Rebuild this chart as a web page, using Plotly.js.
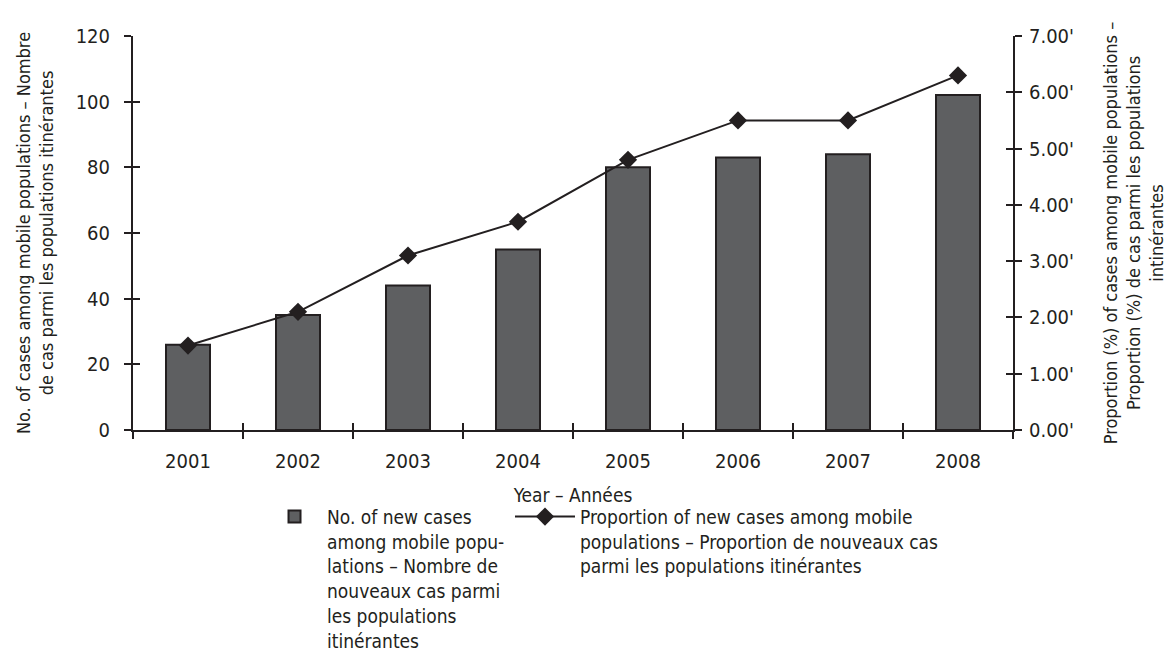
<!DOCTYPE html>
<html>
<head>
<meta charset="utf-8">
<script src="https://cdn.plot.ly/plotly-3.0.1.min.js"></script>
<style>
  html, body { margin: 0; padding: 0; background: #ffffff; }
  #chart { width: 1173px; height: 654px; }
</style>
</head>
<body>
<div id="chart"></div>
<script>
// ---- Data ----
var years = ['2001', '2002', '2003', '2004', '2005', '2006', '2007', '2008'];
var newCases = [26, 35, 44, 55, 80, 83, 84, 102];
var proportion = [1.5, 2.1, 3.1, 3.7, 4.8, 5.5, 5.5, 6.3];

var leftTicks = [0, 20, 40, 60, 80, 100, 120];
var rightTicks = [0, 1, 2, 3, 4, 5, 6, 7];
var rightTickText = ["0.00'", "1.00'", "2.00'", "3.00'", "4.00'", "5.00'", "6.00'", "7.00'"];

var barName = 'No. of new cases<br>among mobile popu-<br>lations – Nombre de<br>nouveaux cas parmi<br>les populations<br>itinérantes';
var lineName = 'Proportion of new cases among mobile<br>populations – Proportion de nouveaux cas<br>parmi les populations itinérantes';
var xTitle = 'Year – Années';
var yTitle = 'No. of cases among mobile populations – Nombre<br>de cas parmi les populations itinérantes';
var y2Title = 'Proportion (%) of cases among mobile populations –<br>Proportion (%) de cas parmi les populations<br>intinérantes';

// ---- Styling ----
var FONT = '"Liberation Sans Narrow", "DejaVu Sans Condensed", Roboto, sans-serif';
var INK = '#231f20';
var BAR = '#5e5f61';

var boundaries = years.slice(1).map(function (_, i) { return i + 0.5; });
var xr = [-0.5, years.length - 0.5];
var yr = [0, leftTicks[leftTicks.length - 1]];
var y2r = [0, rightTicks[rightTicks.length - 1]];

var traces = [
  {
    type: 'bar', x: years, y: newCases, name: barName, legend: 'legend',
    marker: { color: BAR, line: { color: INK, width: 2 } },
    xaxis: 'x', yaxis: 'y', hoverinfo: 'x+y'
  },
  {
    type: 'scatter', mode: 'lines+markers', x: years, y: proportion, name: lineName, legend: 'legend2',
    line: { color: INK, width: 2 },
    marker: { symbol: 'diamond', size: 14, color: INK },
    xaxis: 'x', yaxis: 'y2'
  },
  // helper empty traces to draw the inner half of the crossing ticks
  { type: 'scatter', x: [], y: [], xaxis: 'x2', yaxis: 'y3', showlegend: false, hoverinfo: 'skip' },
  { type: 'scatter', x: [], y: [], xaxis: 'x2', yaxis: 'y4', showlegend: false, hoverinfo: 'skip' }
];

var legendFont = { family: FONT, size: 19, color: INK };

var layout = {
  width: 1173, height: 654,
  margin: { l: 133, r: 160, t: 36, b: 224, autoexpand: false },
  paper_bgcolor: '#ffffff', plot_bgcolor: '#ffffff',
  font: { family: FONT, size: 18, color: INK },
  bargap: 0.6,
  showlegend: true,
  legend: {
    orientation: 'h', x: 0.1466, xanchor: 'left', y: -0.172, yanchor: 'top',
    valign: 'top', itemwidth: 55, font: legendFont, bgcolor: 'rgba(0,0,0,0)'
  },
  legend2: {
    orientation: 'h', x: 0.4284, xanchor: 'left', y: -0.172, yanchor: 'top',
    valign: 'top', itemwidth: 60, font: legendFont, bgcolor: 'rgba(0,0,0,0)'
  },
  xaxis: {
    type: 'category', range: xr, tickson: 'boundaries',
    ticks: 'outside', ticklen: 7, tickwidth: 2, tickcolor: INK,
    showline: true, linecolor: INK, linewidth: 2,
    showgrid: false, zeroline: false, automargin: false,
    ticklabelstandoff: 12,
    tickfont: { family: FONT, size: 20, color: INK },
    title: { text: xTitle, standoff: 17, font: { family: FONT, size: 19, color: INK } }
  },
  yaxis: {
    range: yr, tickmode: 'array', tickvals: leftTicks,
    ticks: 'outside', ticklen: 7, tickwidth: 2, tickcolor: INK,
    showline: true, linecolor: INK, linewidth: 2,
    showgrid: false, zeroline: false, automargin: false,
    ticklabelstandoff: 10,
    tickfont: { family: FONT, size: 20, color: INK },
    title: { text: yTitle, standoff: 17, font: { family: FONT, size: 18, color: INK } }
  },
  yaxis2: {
    overlaying: 'y', side: 'right', anchor: 'x',
    range: y2r, tickmode: 'array', tickvals: rightTicks, ticktext: rightTickText,
    ticks: 'outside', ticklen: 7, tickwidth: 2, tickcolor: INK,
    showline: true, linecolor: INK, linewidth: 2,
    showgrid: false, zeroline: false, automargin: false,
    ticklabelstandoff: 3,
    tickfont: { family: FONT, size: 20, color: INK },
    title: { text: y2Title, standoff: 31, font: { family: FONT, size: 18, color: INK } }
  },
  xaxis2: {
    overlaying: 'x', anchor: 'y', side: 'bottom', range: xr,
    tickmode: 'array', tickvals: boundaries,
    ticks: 'inside', ticklen: 7, tickwidth: 2, tickcolor: INK,
    showticklabels: false, showline: false, showgrid: false, zeroline: false, automargin: false
  },
  yaxis3: {
    overlaying: 'y', anchor: 'x', side: 'left', range: yr,
    tickmode: 'array', tickvals: leftTicks,
    ticks: 'inside', ticklen: 7, tickwidth: 2, tickcolor: INK,
    showticklabels: false, showline: false, showgrid: false, zeroline: false, automargin: false
  },
  yaxis4: {
    overlaying: 'y', anchor: 'x', side: 'right', range: y2r,
    tickmode: 'array', tickvals: rightTicks,
    ticks: 'inside', ticklen: 7, tickwidth: 2, tickcolor: INK,
    showticklabels: false, showline: false, showgrid: false, zeroline: false, automargin: false
  }
};

Plotly.newPlot('chart', traces, layout, { displayModeBar: false, staticPlot: true });
</script>
</body>
</html>
